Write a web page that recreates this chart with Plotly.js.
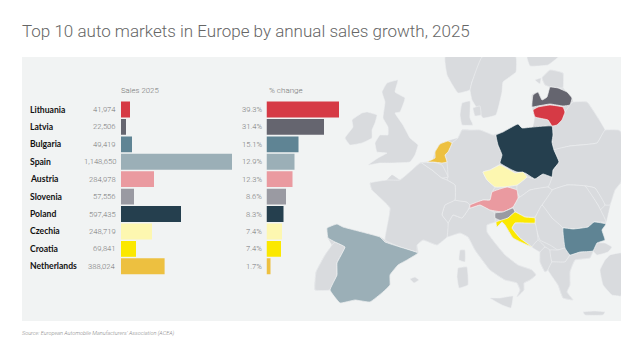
<!DOCTYPE html>
<html><head><meta charset="utf-8">
<script src="https://cdn.plot.ly/plotly-3.0.1.min.js"></script>
<style>html,body{margin:0;padding:0;background:#fff}#c{width:643px;height:357px}</style>
</head><body><div id="c"></div>
<script>
const categories=["Lithuania","Latvia","Bulgaria","Spain","Austria","Slovenia","Poland","Czechia","Croatia","Netherlands"];
const salesLabels=["41,974","22,506","49,419","1,148,650","284,978","57,556","597,435","248,719","69,841","388,024"];
const pctLabels=["39.3%","31.4%","15.1%","12.9%","12.3%","8.6%","8.3%","7.4%","7.4%","1.7%"];
// bar lengths as drawn in the reference (the drawn bars are not strictly proportional to the printed numbers)
const salesBarLengths=[9,5,11,111,33,13,60,31,15,43.6];
const pctBarLengths=[72.5,57.5,32,28,26,19.5,17,15.5,14.5,4];
const colors=["#d63a45","#65656f","#5f8494","#9bafb7","#ea9aa0","#9a9aa2","#253f4e","#fdf7b0","#fbe800","#edc040"];

// Map outlines (map axis units)
const mainland=[[370,183],[380,184],[387,180],[392,175],[400,180],[410,172],[420,163],[427,162],[433,160],[435,152],[440,144],[448,141],[458,138],[462,130],[470,130],[480,130],[493,135],[503,132],[518,124],[522,128],[533,127],[535,117],[533,110],[532,95],[538,92],[542,100],[547,97],[550,87],[545,85],[542,78],[550,70],[563,73],[563,88],[572,98],[573,102],[587,102],[598,118],[605,130],[618,130],[621,132],[621,182],[615,190],[610,205],[606,222],[602,230],[605,240],[597,243],[593,251],[590,258],[575,260],[570,272],[570,285],[567,292],[573,300],[563,298],[558,285],[548,270],[545,272],[540,262],[540,252],[532,247],[513,238],[505,225],[502,222],[497,227],[496,222],[487,225],[487,232],[495,243],[505,255],[518,265],[532,270],[536,275],[530,280],[524,283],[524,290],[517,297],[520,290],[517,283],[505,280],[490,270],[475,250],[468,237],[460,233],[447,237],[437,245],[423,240],[417,245],[418,253],[407,260],[398,265],[390,275],[390,285],[383,292],[370,302],[355,300],[340,303],[330,290],[315,290],[316,272],[325,255],[332,245],[328,238],[327,228],[337,224],[343,227],[362,232],[380,237],[385,240],[388,225],[390,208],[382,198],[372,190]];
const ireland=[[345,138],[353,127],[352,120],[362,113],[367,112],[377,115],[375,123],[372,130],[372,138],[362,143],[350,145]];
const britain=[[387,83],[398,80],[395,92],[405,98],[400,112],[395,113],[403,125],[410,138],[418,145],[415,155],[410,162],[390,163],[380,163],[368,165],[378,158],[387,153],[377,152],[375,143],[380,135],[388,135],[388,127],[383,118],[385,102],[382,92]];
const norway=[[445,57],[482,57],[472,82],[470,90],[458,93],[447,75]];
const sweden=[[482,57],[516,57],[516,72],[503,82],[502,92],[496,115],[483,118],[478,110],[472,100],[470,90],[472,82]];
const finland=[[527,57],[558,57],[548,65],[530,66]];
const estonia=[[542,78],[550,70],[563,73],[563,88],[550,87],[545,85]];
const saaremaa=[[535,80],[541,78],[540,84]];
const zealand=[[473,108],[480,106],[481,115],[475,116]];
const belarus=[[552,126],[565,112],[570,105],[573,102],[587,102],[598,118],[605,130],[597,143],[570,146],[554,150],[552,142]];
const ukraine=[[554,150],[570,146],[597,143],[605,130],[618,130],[621,132],[621,182],[615,190],[610,205],[605,205],[595,188],[585,186],[567,185],[552,190],[548,187],[552,177],[553,170],[559,162]];
const moldova=[[585,186],[595,188],[605,205],[600,210],[598,205]];
const romania=[[552,190],[567,185],[585,186],[598,205],[606,222],[594,222],[588,227],[573,229],[563,228],[552,218],[542,205]];
const slovakia=[[517,185],[527,177],[535,179],[543,174],[552,177],[548,187],[530,190],[520,197],[517,192]];
const hungary=[[518,198],[520,197],[530,190],[548,187],[552,190],[542,205],[535,217],[525,217],[515,212],[513,207]];
const serbia=[[535,218],[542,205],[552,218],[563,228],[565,248],[558,250],[550,245],[540,240],[535,225]];
const bosnia=[[515,223],[535,223],[538,240],[532,247],[520,238],[512,228]];
const montenegro=[[532,247],[538,240],[545,247],[540,252]];
const albania=[[540,252],[545,247],[550,250],[552,262],[548,270],[545,272],[540,262]];
const macedonia=[[550,250],[558,250],[565,248],[570,255],[565,262],[552,262]];
const greece=[[548,270],[552,262],[565,262],[570,255],[580,252],[593,251],[590,258],[575,260],[570,272],[570,285],[567,292],[573,300],[563,298],[558,285]];
const crete=[[583,312],[595,311],[605,312],[603,315],[585,315]];
const thrace=[[593,251],[597,243],[605,243],[612,247],[608,252],[597,255]];
const anatolia=[[610,255],[621,253],[621,296],[612,295],[603,285],[600,270],[605,260]];
const italy=[[447,237],[460,233],[468,237],[475,250],[490,270],[505,280],[517,283],[520,290],[517,297],[524,290],[524,283],[530,280],[536,275],[532,270],[518,265],[505,255],[495,243],[487,232],[487,225],[495,222],[495,213],[490,210],[480,205],[470,208],[468,210],[462,218],[453,215],[448,223]];
const sicily=[[490,298],[500,298],[513,296],[511,308],[502,305]];
const sardinia=[[458,268],[467,267],[468,285],[459,288],[457,277]];
const corsica=[[460,250],[465,250],[465,262],[459,260]];
const mallorca=[[410,279],[415,277],[419,280],[414,283]];
const switzerland=[[442,215],[445,205],[455,200],[467,202],[470,205],[468,210],[462,218],[453,215],[448,223]];
const germany=[[458,138],[462,130],[470,130],[480,130],[493,135],[496,135],[498,145],[502,155],[500,164],[490,170],[483,172],[487,180],[495,187],[492,192],[490,200],[483,200],[470,205],[467,202],[455,200],[455,185],[447,180],[448,177],[447,162],[445,155],[448,152],[452,143]];
const france=[[370,183],[387,180],[400,180],[420,163],[422,163],[432,170],[442,178],[447,180],[455,185],[455,200],[445,205],[442,215],[448,223],[447,237],[437,245],[423,240],[417,245],[417,252],[400,247],[385,240],[390,208],[372,190]];
const belgium=[[422,163],[433,162],[442,165],[448,177],[442,178],[432,170]];
const denmark=[[462,103],[470,101],[470,118],[473,125],[462,125],[460,115]];
const portugal=[[335,242],[345,247],[337,263],[337,275],[330,290],[315,290],[316,272],[325,255],[332,245]];
const spain=[[327,228],[337,224],[343,227],[362,232],[380,237],[385,242],[400,247],[418,253],[407,260],[398,265],[390,275],[390,285],[383,292],[370,302],[355,300],[340,303],[330,290],[337,275],[337,263],[345,247],[335,242],[328,238]];
const netherlands=[[435,158],[435,152],[440,144],[448,141],[452,143],[448,152],[445,155],[447,162],[442,163],[433,162],[427,162]];
const poland=[[496,135],[503,132],[518,124],[522,128],[533,127],[552,126],[553,135],[552,142],[554,150],[559,162],[553,170],[552,177],[543,174],[535,179],[525,173],[517,172],[512,170],[500,163],[502,155],[498,145]];
const lithuania=[[533,110],[538,107],[550,105],[563,107],[565,112],[562,120],[557,125],[552,126],[548,120],[535,117]];
const latvia=[[532,107],[533,95],[538,92],[542,100],[547,97],[550,87],[558,88],[567,92],[572,98],[570,105],[563,106],[550,104],[538,106]];
const czechia=[[483,172],[490,170],[500,165],[510,170],[515,173],[523,172],[527,177],[517,185],[503,187],[495,187],[487,180]];
const austria=[[470,205],[483,200],[490,200],[492,192],[507,187],[517,190],[518,198],[513,207],[503,212],[490,210],[480,205],[470,208]];
const slovenia=[[495,213],[503,212],[513,208],[515,212],[508,218],[502,221],[495,218]];
const croatia=[[508,218],[515,212],[525,217],[535,218],[535,223],[525,223],[515,223],[512,228],[520,238],[532,247],[513,238],[505,225],[502,222],[497,227],[496,222]];
const bulgaria=[[563,228],[573,229],[588,227],[594,222],[606,224],[602,230],[605,240],[597,243],[593,251],[580,252],[570,255],[565,248]];

const land="#d9dbde", panel="#f1f3f3", W=643, H=357;
const plainLand=[ireland,britain,norway,sweden,finland,estonia,saaremaa,zealand,belarus,ukraine,moldova,romania,slovakia,hungary,serbia,bosnia,montenegro,albania,macedonia,greece,crete,thrace,anatolia,italy,sicily,sardinia,corsica,mallorca,switzerland,germany,france,belgium,denmark,portugal];
const highlighted=[[lithuania,0],[latvia,1],[bulgaria,2],[spain,3],[austria,4],[slovenia,5],[poland,6],[czechia,7],[croatia,8],[netherlands,9]];
const mapTrace=(o,c,lc,lw)=>({type:"scatter",mode:"lines",x:o.map(p=>p[0]).concat(o[0][0]),y:o.map(p=>p[1]).concat(o[0][1]),fill:"toself",fillcolor:c,line:{color:lc,width:lw,shape:"spline",smoothing:0.3},xaxis:"x3",yaxis:"y3",hoverinfo:"skip",showlegend:false});

const traces=[
 mapTrace(mainland,land,land,0.5),
 ...plainLand.map(o=>mapTrace(o,land,"#eff0f1",0.6)),
 ...highlighted.map(h=>mapTrace(h[0],colors[h[1]],"#f4f5f5",0.7)),
 {type:"bar",orientation:"h",y:categories,x:salesBarLengths,marker:{color:colors},xaxis:"x",yaxis:"y",hoverinfo:"skip",showlegend:false},
 {type:"bar",orientation:"h",y:categories,x:pctBarLengths,marker:{color:colors},xaxis:"x2",yaxis:"y",hoverinfo:"skip",showlegend:false}
];
const hidden={visible:false,fixedrange:true};
const ann=(t,x,y,anchor,size,color,weight,fam)=>({xref:"paper",yref:"paper",x:x/W,y:1-y/H,text:t,showarrow:false,xanchor:anchor,yanchor:"middle",borderpad:0,font:{family:fam||"Lato, sans-serif",size,color,weight:weight||300}});
const rowY=i=>109.5+17.42*i;
const annotations=[
 ann("Top 10 auto markets in Europe by annual sales growth, 2025",21,31,"left",17,"#666",300,"Roboto, sans-serif"),
 ann("Sales 2025",120,90.5,"left",7.8,"#777",300,"Roboto, sans-serif"),
 ann("% change",268,90.5,"left",8,"#777",300,"Roboto, sans-serif"),
 ann("<i>Source: European Automobile Manufacturers' Association (ACEA)</i>",21,333,"left",5.5,"#888",300,"Roboto, sans-serif"),
 ...categories.map((c,i)=>ann(c,29,rowY(i),"left",8.6,"#111",700)),
 ...salesLabels.map((s,i)=>ann(s,116.5,rowY(i),"right",7.6,"#777",300,"Roboto, sans-serif")),
 ...pctLabels.map((s,i)=>ann(s,262.5,rowY(i),"right",7.6,"#777",300,"Roboto, sans-serif"))
];
const layout={
 width:W,height:H,margin:{l:0,r:0,t:0,b:0,pad:0},paper_bgcolor:"#fff",plot_bgcolor:"rgba(0,0,0,0)",
 showlegend:false,bargap:0.09,dragmode:false,
 xaxis:{...hidden,domain:[121/W,232/W],range:[0,111],anchor:"y"},
 xaxis2:{...hidden,domain:[266.5/W,339/W],range:[0,72.5],anchor:"y"},
 yaxis:{...hidden,type:"category",domain:[1-275/H,1-100.8/H],autorange:false,range:[9.5,-0.5],categoryorder:"array",categoryarray:categories},
 xaxis3:{...hidden,domain:[22/W,621/W],range:[22,621],anchor:"y3"},
 yaxis3:{...hidden,domain:[1-321/H,1-57/H],range:[321,57],anchor:"x3"},
 shapes:[{type:"rect",xref:"paper",yref:"paper",x0:22/W,x1:621/W,y0:1-321/H,y1:1-57/H,fillcolor:panel,line:{width:0},layer:"below"}],
 annotations
};
Plotly.newPlot("c",traces,layout,{displayModeBar:false,staticPlot:true});
</script></body></html>
